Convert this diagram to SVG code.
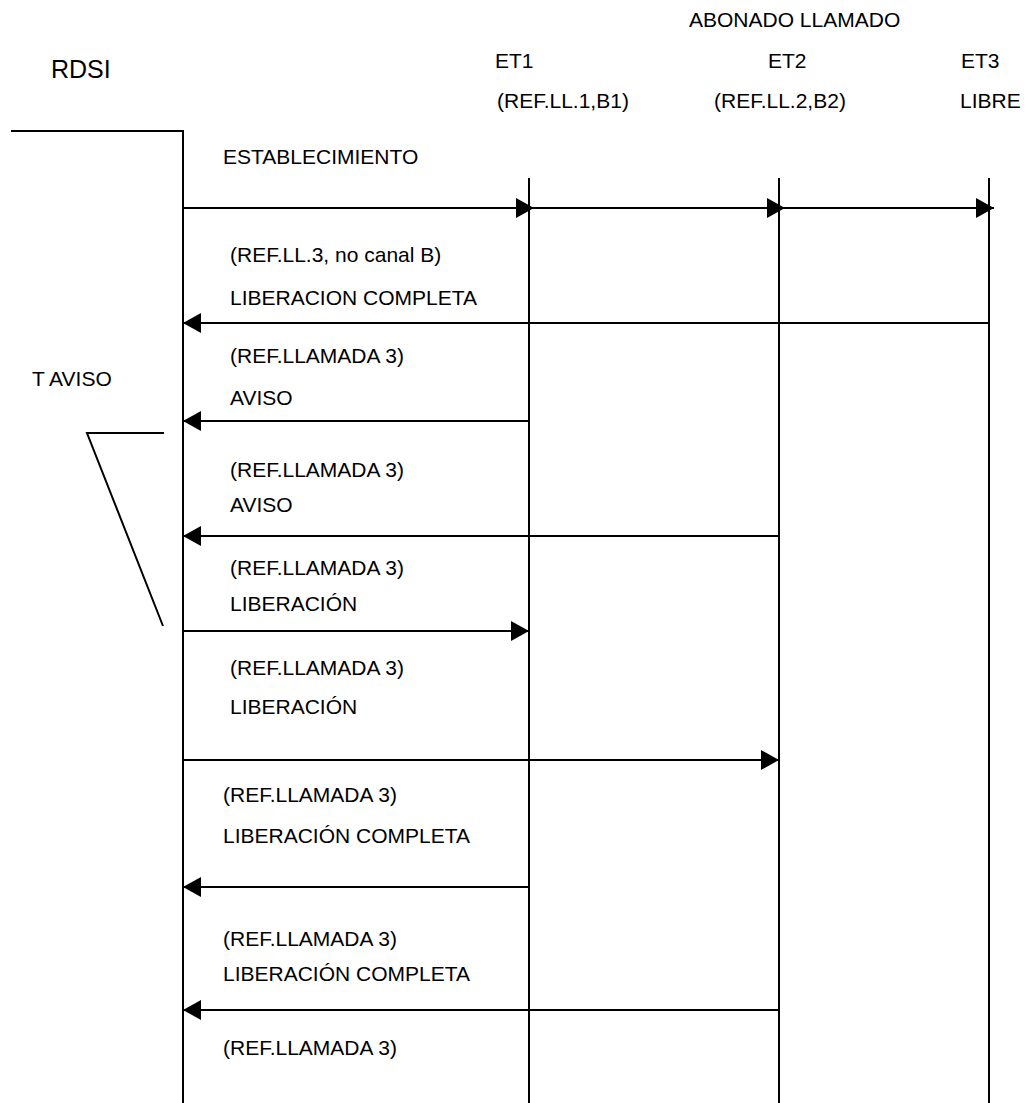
<svg xmlns="http://www.w3.org/2000/svg" width="1036" height="1103" viewBox="0 0 1036 1103">
<style>
text{font-family:"Liberation Sans",Arial,sans-serif;font-size:21px;fill:#000}
.big{font-size:25px}
.ln{stroke:#000;stroke-width:2;fill:none}
.ar{stroke:#000;stroke-width:2;fill:none;marker-end:url(#ah)}
</style>
<defs>
<marker id="ah" viewBox="0 0 18 20" refX="18" refY="10" markerWidth="18" markerHeight="20" markerUnits="userSpaceOnUse" orient="auto">
<path d="M0,0 L18,10 L0,20 z" fill="#000"/>
</marker>
</defs>
<rect width="1036" height="1103" fill="#fff"/>
<g id="rdsi">
<text class="big" x="51" y="78">RDSI</text>
<polyline class="ln" points="11,131 183,131 183,1103"/>
</g>
<g id="header">
<text x="689" y="27">ABONADO LLAMADO</text>
</g>
<g id="et1">
<text x="495" y="68">ET1</text>
<text x="497" y="108">(REF.LL.1,B1)</text>
<line class="ln" x1="529" y1="178" x2="529" y2="1103"/>
</g>
<g id="et2">
<text x="768" y="68">ET2</text>
<text x="714" y="108">(REF.LL.2,B2)</text>
<line class="ln" x1="779" y1="178" x2="779" y2="1103"/>
</g>
<g id="et3">
<text x="961" y="68">ET3</text>
<text x="960" y="108">LIBRE</text>
<line class="ln" x1="989" y1="178" x2="989" y2="1103"/>
</g>
<g id="taviso">
<text x="32" y="386">T AVISO</text>
<polyline class="ln" points="164,433 87,433 163,626"/>
</g>
<g id="labels">
<text x="223" y="164">ESTABLECIMIENTO</text>
<text x="230" y="262">(REF.LL.3, no canal B)</text>
<text x="230" y="305">LIBERACION COMPLETA</text>
<text x="230" y="363">(REF.LLAMADA 3)</text>
<text x="230" y="405">AVISO</text>
<text x="230" y="477">(REF.LLAMADA 3)</text>
<text x="230" y="512">AVISO</text>
<text x="230" y="575">(REF.LLAMADA 3)</text>
<text x="230" y="611">LIBERACIÓN</text>
<text x="230" y="675">(REF.LLAMADA 3)</text>
<text x="230" y="714">LIBERACIÓN</text>
<text x="223" y="802">(REF.LLAMADA 3)</text>
<text x="223" y="843">LIBERACIÓN COMPLETA</text>
<text x="223" y="946">(REF.LLAMADA 3)</text>
<text x="223" y="981">LIBERACIÓN COMPLETA</text>
<text x="223" y="1055">(REF.LLAMADA 3)</text>
</g>
<g id="connectors">
<line class="ar" x1="183" y1="208" x2="534" y2="208"/>
<line class="ar" x1="529" y1="208" x2="785" y2="208"/>
<line class="ar" x1="779" y1="208" x2="994" y2="208"/>
<line class="ar" x1="989" y1="323" x2="183" y2="323"/>
<line class="ar" x1="529" y1="421" x2="183" y2="421"/>
<line class="ar" x1="779" y1="536" x2="183" y2="536"/>
<line class="ar" x1="183" y1="631" x2="529" y2="631"/>
<line class="ar" x1="183" y1="760" x2="779" y2="760"/>
<line class="ar" x1="529" y1="887" x2="183" y2="887"/>
<line class="ar" x1="779" y1="1010" x2="183" y2="1010"/>
</g>
</svg>
